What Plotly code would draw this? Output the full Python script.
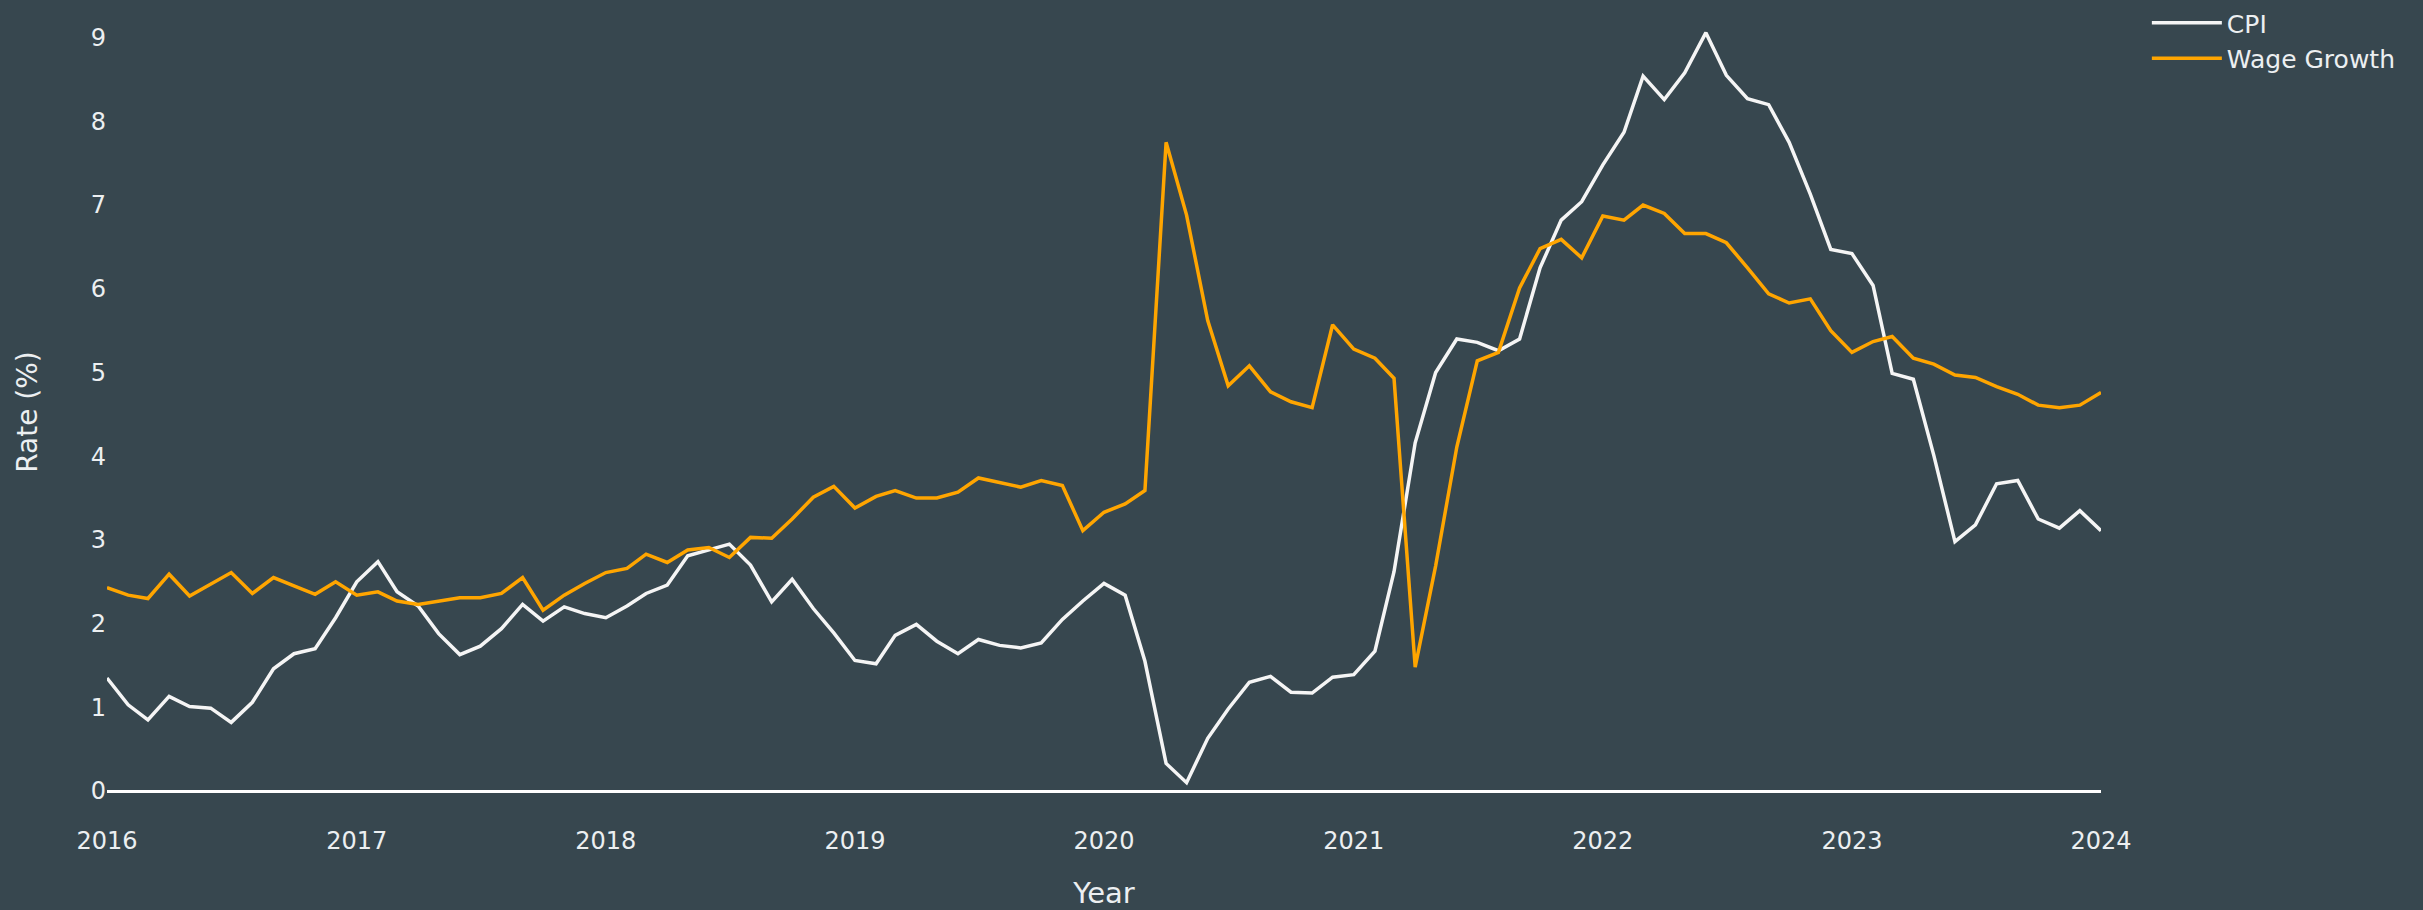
import plotly.graph_objects as go
import pandas as pd

months = pd.date_range("2016-01-01", "2024-01-01", freq="MS")

cpi = [1.35, 1.03, 0.85, 1.13, 1.01, 0.99, 0.82, 1.06, 1.46, 1.64, 1.70, 2.07,
       2.50, 2.74, 2.38, 2.21, 1.88, 1.63, 1.73, 1.94, 2.23, 2.03, 2.20, 2.12,
       2.07, 2.21, 2.36, 2.46, 2.81, 2.88, 2.95, 2.70, 2.26, 2.53, 2.18, 1.89,
       1.56, 1.52, 1.86, 1.99, 1.79, 1.64, 1.81, 1.74, 1.71, 1.77, 2.05, 2.27,
       2.48, 2.34, 1.55, 0.33, 0.10, 0.63, 0.98, 1.30, 1.37, 1.18, 1.17, 1.36,
       1.39, 1.67, 2.62, 4.16, 5.00, 5.40, 5.36, 5.26, 5.40, 6.25, 6.82, 7.04,
       7.48, 7.87, 8.54, 8.26, 8.58, 9.06, 8.55, 8.27, 8.20, 7.75, 7.13, 6.47,
       6.42, 6.04, 4.99, 4.92, 4.01, 2.98, 3.18, 3.67, 3.71, 3.25, 3.14, 3.35,
       3.11]

wage = [2.43, 2.34, 2.30, 2.59, 2.33, 2.47, 2.61, 2.36, 2.55, 2.45, 2.35, 2.50,
        2.34, 2.38, 2.27, 2.23, 2.27, 2.31, 2.31, 2.36, 2.55, 2.16, 2.34, 2.48,
        2.61, 2.66, 2.83, 2.73, 2.88, 2.91, 2.79, 3.03, 3.02, 3.25, 3.51, 3.64,
        3.38, 3.52, 3.59, 3.50, 3.50, 3.57, 3.74, 3.68, 3.63, 3.71, 3.65, 3.11,
        3.33, 3.43, 3.59, 7.75, 6.88, 5.62, 4.84, 5.08, 4.77, 4.65, 4.58, 5.57,
        5.28, 5.17, 4.93, 1.48, 2.69, 4.11, 5.14, 5.24, 6.01, 6.48, 6.59, 6.37,
        6.87, 6.82, 7.00, 6.90, 6.66, 6.66, 6.55, 6.25, 5.94, 5.83, 5.88, 5.50,
        5.24, 5.37, 5.43, 5.17, 5.10, 4.97, 4.94, 4.83, 4.74, 4.61, 4.58, 4.61,
        4.76]

y_ticks = list(range(0, 10))

BG = "#37474F"
TXT = "#ECEFF1"
FONT = "Verdana, DejaVu Sans, sans-serif"

fig = go.Figure()
fig.add_trace(go.Scatter(x=months, y=cpi, mode="lines", name="CPI",
                         line=dict(color="#F5F5F5", width=3.5)))
fig.add_trace(go.Scatter(x=months, y=wage, mode="lines", name="Wage Growth",
                         line=dict(color="#FFA500", width=3.5)))

fig.update_layout(
    width=2423, height=910,
    paper_bgcolor=BG, plot_bgcolor=BG,
    font=dict(family=FONT, color=TXT, size=24),
    margin=dict(l=107, r=322, t=0, b=86),
    showlegend=True,
    legend=dict(font=dict(size=25, color=TXT), itemwidth=70,
                x=1.023, y=1, xanchor="left", yanchor="top",
                bgcolor="rgba(0,0,0,0)"),
    xaxis=dict(title=dict(text="Year", font=dict(size=29), standoff=28),
               type="date", range=["2016-01-01", "2024-01-01"],
               dtick="M12", tickformat="%Y", showgrid=False, zeroline=False,
               showline=False, tickfont=dict(size=24)),
    yaxis=dict(title=dict(text="Rate (%)", font=dict(size=28), standoff=44),
               range=[-0.394, 9.45], tickvals=y_ticks, showgrid=False,
               zeroline=True, zerolinecolor="white", zerolinewidth=3,
               showline=False, tickfont=dict(size=24)),
)

fig.write_html(
    "out.html",
    config={"displayModeBar": False},
    post_script="document.body.style.margin='0';document.body.style.background='#37474F';",
)
